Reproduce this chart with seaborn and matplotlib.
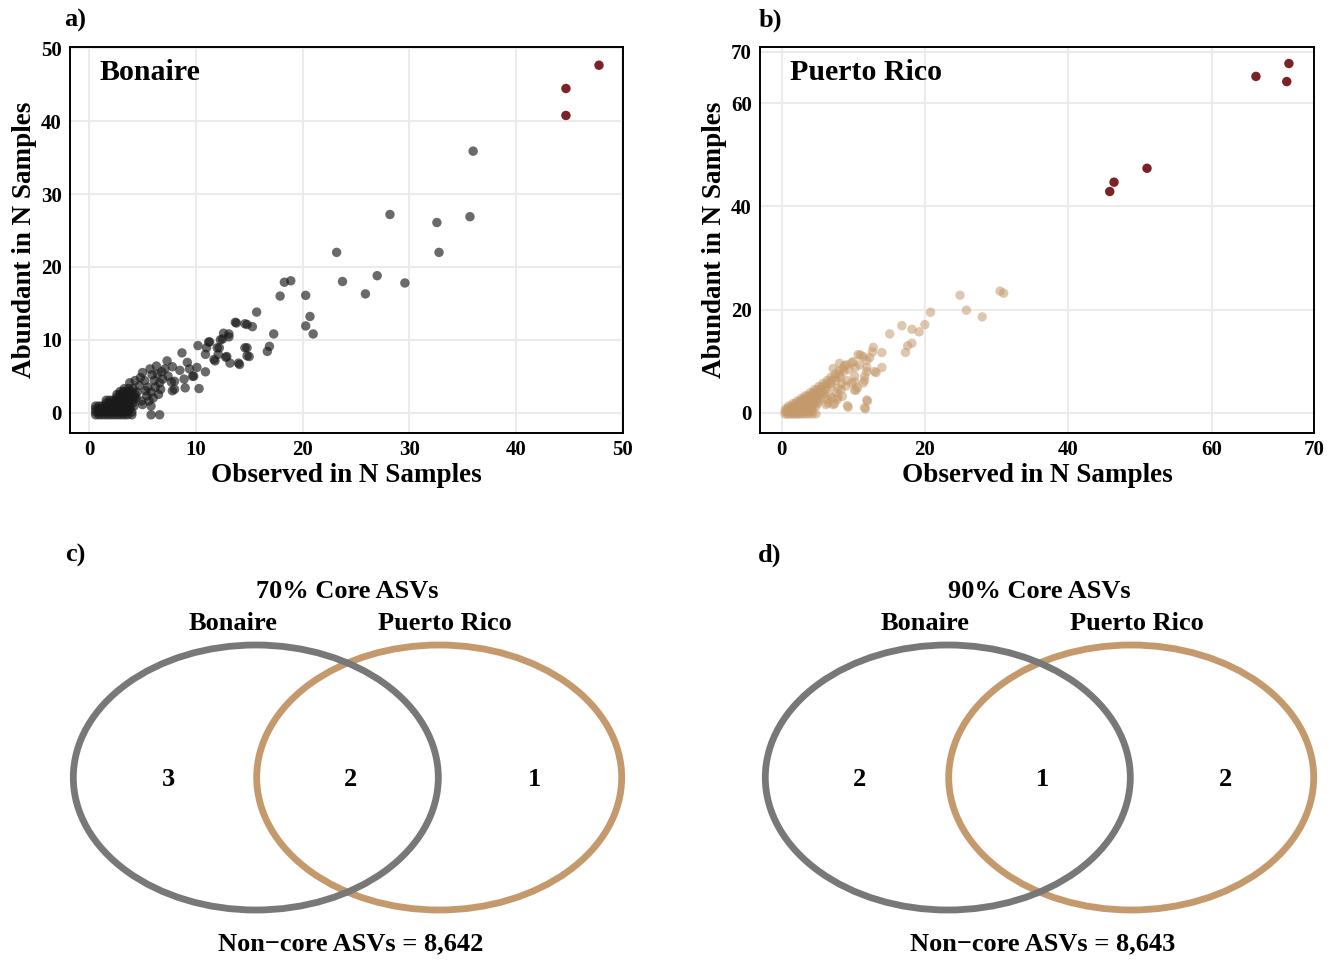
import matplotlib
matplotlib.use("Agg")
import matplotlib.pyplot as plt
from matplotlib.patches import Ellipse
import seaborn as sns
import pandas as pd

# ---------------- data ----------------
# Bonaire: (observed in N samples, abundant in N samples)
bonaire_core = [(44.7, 44.5), (44.7, 40.8), (47.8, 47.7)]
bonaire_other = [
    (36.0, 35.9), (28.2, 27.2), (32.6, 26.1), (35.7, 26.9), (32.8, 22.0), (23.2, 22.0),
    (23.75, 18.0), (27.0, 18.8), (29.6, 17.8), (25.9, 16.3), (18.3, 17.9), (18.9, 18.1),
    (17.9, 16.0), (20.3, 16.1), (20.7, 13.2), (20.3, 11.9), (21.0, 10.8), (15.7, 13.8),
    (13.8, 12.3), (14.8, 12.1), (15.3, 11.8), (17.3, 10.8), (16.9, 9.1), (16.7, 8.4),
    (12.6, 10.9), (13.1, 10.4), (12.3, 10.0), (12.2, 8.9), (12.1, 8.0), (11.3, 9.7),
    (11.0, 8.9), (10.9, 8.0), (10.2, 9.2), (14.8, 8.9), (15.0, 7.7), (14.8, 7.8),
    (12.9, 7.7), (13.2, 6.8), (14.1, 6.6), (11.8, 7.1), (10.1, 6.2), (10.9, 5.6),
    (10.3, 3.3), (9.8, 5.0), (8.7, 8.2), (9.2, 6.9), (8.5, 5.8), (8.9, 4.6), (9.0, 3.4),
    (8.0, 4.3), (8.0, 3.2), (7.3, 7.1), (7.8, 6.3), (5.8, -0.3), (6.6, -0.3),
    (7.7, 4.2), (7.8, 3.0), (7.1, 6.0), (6.9, 4.6), (6.3, 6.4), (6.4, 5.3), (6.1, 4.4),
    (6.6, 4.1), (6.7, 3.2), (5.8, 2.8), (5.4, 2.3), (4.9, 1.6), (5.0, 5.5), (5.7, 6.0),
    (5.2, 4.4), (4.7, 3.7), (4.3, 4.4), (3.8, 4.1), (5.8, 0.9), (5.0, 1.1), (11.2, 9.7),
    (12.5, 10.1), (13.1, 10.8), (12.0, 8.9), (12.8, 7.6), (11.7, 7.3), (13.7, 12.4),
    (14.6, 12.2), (14.6, 8.9), (14.0, 6.8), (9.4, 6.0), (9.7, 5.0),
    (5.5, 3.5), (6.0, 2.0), (4.5, 2.8), (5.3, 3.0), (6.2, 3.5), (4.8, 4.8), (5.9, 5.2),
    (6.8, 5.6), (7.4, 5.0), (4.4, 2.0), (5.6, 1.6), (6.5, 2.5),
    # dense low cluster
    (0.6, -0.3), (0.9, -0.3), (1.2, -0.3), (1.5, -0.3), (1.8, -0.3), (2.1, -0.3),
    (2.4, -0.3), (2.7, -0.3), (3.0, -0.3), (3.3, -0.3), (3.6, -0.3), (4.0, -0.3),
    (0.6, 0.1), (0.9, 0.1), (1.2, 0.1), (1.5, 0.1), (1.8, 0.1), (2.1, 0.1),
    (2.4, 0.1), (2.7, 0.1), (3.0, 0.1), (3.3, 0.1), (3.6, 0.1), (4.0, 0.1),
    (0.6, 0.5), (0.9, 0.5), (1.2, 0.5), (1.5, 0.5), (1.8, 0.5), (2.1, 0.5),
    (2.4, 0.5), (2.7, 0.5), (3.0, 0.5), (3.4, 0.5), (3.8, 0.5),
    (0.6, 0.9), (0.9, 0.9), (1.2, 0.9), (1.5, 0.9), (1.8, 0.9), (2.2, 0.9),
    (2.6, 0.9), (3.0, 0.9), (3.4, 0.9), (3.8, 0.9), (4.2, 0.9),
    (1.6, 1.3), (1.9, 1.3), (2.2, 1.3), (2.5, 1.3), (2.8, 1.3), (3.1, 1.3),
    (3.4, 1.3), (3.7, 1.3), (4.1, 1.3),
    (1.6, 1.7), (1.9, 1.7), (2.2, 1.7), (2.5, 1.7), (2.8, 1.7), (3.1, 1.7),
    (3.4, 1.7), (3.7, 1.7), (4.1, 1.7),
    (2.6, 2.1), (2.9, 2.1), (3.2, 2.1), (3.5, 2.1), (3.8, 2.1), (4.2, 2.1),
    (2.6, 2.5), (2.9, 2.5), (3.2, 2.5), (3.5, 2.5), (3.8, 2.5), (4.3, 2.5),
    (2.9, 2.9), (3.2, 2.9), (3.6, 2.9), (4.0, 2.9),
    (3.3, 3.3), (3.7, 3.3), (4.1, 3.3),
]

# Puerto Rico
pr_core = [(70.8, 67.7), (66.2, 65.2), (70.5, 64.2), (51.0, 47.4), (46.4, 44.7), (45.8, 42.9)]
pr_other = [
    (30.5, 23.6), (31.0, 23.2), (24.9, 22.8), (25.8, 19.9), (28.0, 18.6), (20.8, 19.5),
    (20.0, 17.1), (16.8, 16.9), (18.2, 16.2), (19.2, 15.7), (15.1, 15.3), (18.2, 13.5),
    (17.6, 13.0), (17.3, 11.7), (12.8, 12.7), (12.7, 11.8), (14.0, 11.7), (11.0, 11.2),
    (11.9, 8.8), (13.2, 7.8), (14.0, 8.8), (10.4, 4.4), (9.3, 1.1), (11.7, 0.8),
    (12.0, 2.3), (8.8, 9.2), (9.4, 8.4), (9.8, 9.7), (10.3, 8.8), (11.6, 7.1), (9.8, 5.8),
    (10.2, 7.1), (9.0, 5.2), (11.4, 5.8), (10.6, 4.9), (8.3, 4.5), (7.8, 2.6), (7.2, 1.6),
    (8.5, 3.2), (7.7, 3.9), (6.2, 1.6), (6.5, 1.9), (7.0, 2.9),
    (10.7, 11.3), (11.4, 10.9), (11.9, 10.2), (12.3, 10.7), (9.1, 9.3), (10.0, 9.9),
    (10.9, 9.3), (11.9, 8.0), (13.0, 8.0), (11.6, 6.3), (10.2, 6.0), (10.2, 4.4),
    (9.1, 6.3), (8.4, 5.7), (7.9, 4.7), (11.9, 2.5), (11.6, 1.0), (9.2, 1.4), (7.4, 1.8),
    (6.5, 2.5), (5.8, 3.8), (6.7, 3.4), (7.9, 3.1), (7.2, 8.6), (8.1, 9.6),
    # dense low cluster
    (0.5, -0.2), (0.8, -0.2), (1.1, -0.2), (1.4, -0.2), (1.7, -0.2), (2.0, -0.2),
    (2.3, -0.2), (2.6, -0.2), (3.0, -0.2), (3.4, -0.2), (3.8, -0.2), (4.3, -0.2), (4.8, -0.2),
    (0.5, 0.3), (0.8, 0.3), (1.1, 0.3), (1.4, 0.3), (1.7, 0.3), (2.0, 0.3),
    (2.3, 0.3), (2.6, 0.3), (3.0, 0.3), (3.4, 0.3), (3.8, 0.3), (4.3, 0.3),
    (0.6, 0.8), (0.9, 0.8), (1.2, 0.8), (1.5, 0.8), (1.8, 0.8), (2.1, 0.8),
    (2.5, 0.8), (2.9, 0.8), (3.3, 0.8), (3.7, 0.8), (4.2, 0.8),
    (1.0, 1.3), (1.4, 1.3), (1.8, 1.3), (2.2, 1.3), (2.6, 1.3), (3.0, 1.3),
    (3.4, 1.3), (3.8, 1.3), (4.3, 1.3), (4.8, 1.3),
    (1.6, 1.8), (2.0, 1.8), (2.4, 1.8), (2.8, 1.8), (3.2, 1.8), (3.6, 1.8),
    (4.0, 1.8), (4.5, 1.8), (5.0, 1.8),
    (2.2, 2.3), (2.6, 2.3), (3.0, 2.3), (3.4, 2.3), (3.8, 2.3), (4.2, 2.3), (4.7, 2.3), (5.2, 2.3),
    (2.8, 2.8), (3.2, 2.8), (3.6, 2.8), (4.0, 2.8), (4.4, 2.8), (4.9, 2.8), (5.4, 2.8),
    (3.3, 3.3), (3.7, 3.3), (4.1, 3.3), (4.5, 3.3), (5.0, 3.3), (5.6, 3.3),
    (4.0, 3.9), (4.4, 3.9), (4.8, 3.9), (5.3, 3.9), (5.9, 3.9),
    (4.6, 4.5), (5.0, 4.5), (5.5, 4.5), (6.1, 4.5),
    (5.2, 5.1), (5.7, 5.1), (6.3, 5.1), (6.9, 5.1),
    (5.8, 5.7), (6.3, 5.7), (6.9, 5.7),
    (6.4, 6.3), (7.0, 6.3), (7.6, 6.3),
    (6.9, 6.9), (7.5, 6.9), (8.2, 6.9),
    (7.5, 7.5), (8.1, 7.5), (8.0, 8.1), (8.7, 8.1), (8.6, 8.7),
]

sites = ["Bonaire", "Puerto Rico"]
venn_titles = ["70% Core ASVs", "90% Core ASVs"]
venn_counts = [[3, 2, 1], [2, 1, 2]]   # Bonaire only, shared, Puerto Rico only
noncore_counts = [8642, 8643]

bon_ticks = [0, 10, 20, 30, 40, 50]
pr_ticks = [0, 20, 40, 60, 70]

# ---------------- style ----------------
sns.set_theme(style="white")
plt.rcParams["font.family"] = ["Liberation Serif", "DejaVu Serif"]
plt.rcParams["font.weight"] = "bold"
plt.rcParams["text.color"] = "black"
plt.rcParams["axes.labelcolor"] = "black"
plt.rcParams["xtick.color"] = "black"
plt.rcParams["ytick.color"] = "black"

GRAY_PT = "#1a1a1a"
TAN = "#C49A6C"
RED = "#7B2226"
VENN_GRAY = "#787878"

W, H = 1331, 961
fig = plt.figure(figsize=(W / 100, H / 100), dpi=100)


def px_axes(l, t, r, b):
    return fig.add_axes([l / W, 1 - b / H, (r - l) / W, (b - t) / H])


def style_scatter(ax, xlim, ylim, xticks, yticks, xticklabels, yticklabels, label):
    ax.set_xlim(*xlim)
    ax.set_ylim(*ylim)
    ax.set_xticks(xticks)
    ax.set_yticks(yticks)
    ax.set_xticklabels(xticklabels, fontsize=15, fontweight="bold", color="black")
    ax.set_yticklabels(yticklabels, fontsize=15, fontweight="bold", color="black")
    ax.grid(True, color="#EBEBEB", linewidth=1.5)
    ax.set_axisbelow(True)
    for s in ax.spines.values():
        s.set_color("black")
        s.set_linewidth(1.4)
    ax.tick_params(axis="both", direction="out", length=4, width=1, color="black",
                   pad=2, labelcolor="black")
    ax.tick_params(axis="x", pad=1)
    ax.set_xlabel("Observed in N Samples", fontsize=19.5, fontweight="bold", color="black")
    ax.set_ylabel("Abundant in N Samples", fontsize=19.5, fontweight="bold", color="black")
    ax.xaxis.set_label_coords(0.5, -0.079)
    ax.yaxis.set_label_coords(-0.059, 0.5)
    ax.text(0.054, 0.933, label, transform=ax.transAxes, fontsize=21.5,
            fontweight="bold", ha="left", va="center", color="black")


# ---- panel a ----
ax_a = px_axes(70, 47, 623, 433)
df_bo = pd.DataFrame(bonaire_other, columns=["observed", "abundant"])
df_bc = pd.DataFrame(bonaire_core, columns=["observed", "abundant"])
sns.scatterplot(data=df_bo, x="observed", y="abundant", color=GRAY_PT, alpha=0.65,
                s=46, edgecolor="none", ax=ax_a, legend=False)
sns.scatterplot(data=df_bc, x="observed", y="abundant", color=RED, alpha=1.0,
                s=46, edgecolor="none", ax=ax_a, legend=False)
style_scatter(ax_a, (-1.8, 50.05), (-2.8, 50.2), bon_ticks, bon_ticks,
              [str(t) for t in bon_ticks], [str(t) for t in bon_ticks], sites[0])

# ---- panel b ----
ax_b = px_axes(760, 47, 1314, 433)
df_po = pd.DataFrame(pr_other, columns=["observed", "abundant"])
df_pc = pd.DataFrame(pr_core, columns=["observed", "abundant"])
sns.scatterplot(data=df_po, x="observed", y="abundant", color=TAN, alpha=0.55,
                s=46, edgecolor="none", ax=ax_b, legend=False)
sns.scatterplot(data=df_pc, x="observed", y="abundant", color=RED, alpha=1.0,
                s=46, edgecolor="none", ax=ax_b, legend=False)
pr_xlim = (-3.0, 74.3)
pr_xtick_pos = pr_ticks[:-1] + [pr_xlim[1]]
style_scatter(ax_b, pr_xlim, (-3.9, 70.9), pr_xtick_pos, pr_ticks,
              [str(t) for t in pr_ticks], [str(t) for t in pr_ticks], sites[1])

# ---- venn panels (c, d) ----
ax_v = fig.add_axes([0, 0, 1, 1])
ax_v.set_xlim(0, W)
ax_v.set_ylim(H, 0)
ax_v.axis("off")
ax_v.patch.set_alpha(0)

offsets = [0, 692]
for i, dx in enumerate(offsets):
    lc, rc, cy = 255.8 + dx, 439.2 + dx, 777.5
    rx, ry = 182.5, 132.5
    ax_v.add_patch(Ellipse((rc, cy), 2 * rx, 2 * ry, fill=False, edgecolor=TAN, linewidth=4.9))
    ax_v.add_patch(Ellipse((lc, cy), 2 * rx, 2 * ry, fill=False, edgecolor=VENN_GRAY, linewidth=4.9))
    mid = (lc + rc) / 2
    ax_v.text(mid, 591, venn_titles[i], fontsize=19, fontweight="bold", ha="center", va="center")
    ax_v.text(233 + dx, 623, sites[0], fontsize=19, fontweight="bold", ha="center", va="center")
    ax_v.text(445 + dx, 623, sites[1], fontsize=19, fontweight="bold", ha="center", va="center")
    a_only, both, b_only = venn_counts[i]
    ax_v.text(168 + dx, 779, str(a_only), fontsize=19, fontweight="bold", ha="center", va="center")
    ax_v.text(mid + 3, 779, str(both), fontsize=19, fontweight="bold", ha="center", va="center")
    ax_v.text(534 + dx, 779, str(b_only), fontsize=19, fontweight="bold", ha="center", va="center")
    ax_v.text(mid + 3, 944, "Non\u2212core ASVs = {:,}".format(noncore_counts[i]),
              fontsize=19, fontweight="bold", ha="center", va="center")

# panel letters
for lab, (x, y) in zip(["a)", "b)", "c)", "d)"], [(75, 20), (770, 20), (75, 555), (770, 555)]):
    ax_v.text(x, y, lab, fontsize=19, fontweight="bold", ha="center", va="center")

fig.savefig("out.png", dpi=100, facecolor="white")
